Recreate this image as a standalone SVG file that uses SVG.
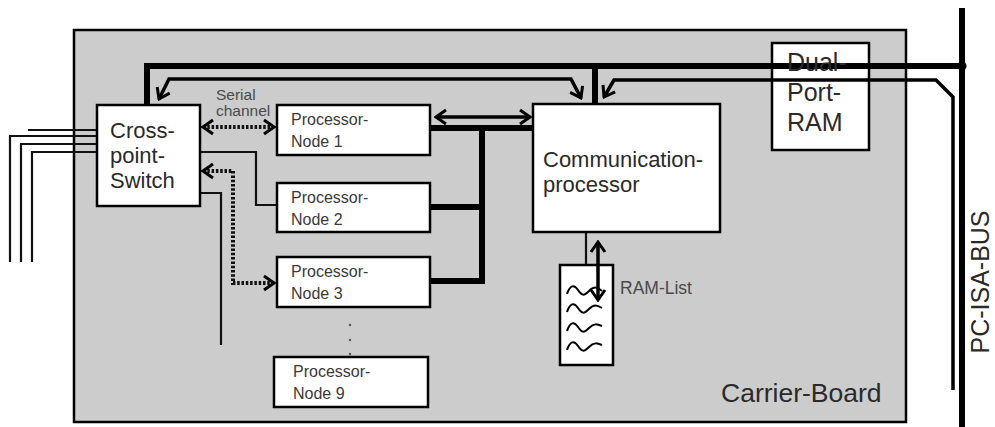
<svg xmlns="http://www.w3.org/2000/svg" width="995" height="427" viewBox="0 0 995 427">
<style>
.box{fill:#fff;stroke:#000;stroke-width:2.5}
.big{font-family:"Liberation Sans",Arial,sans-serif;font-size:22px;fill:#2a2a2a}
.mid{font-family:"Liberation Sans",Arial,sans-serif;font-size:16px;fill:#3a3a3a}
.sm{font-family:"Liberation Sans",Arial,sans-serif;font-size:15.5px;fill:#4a4a4a}
.thin{fill:none;stroke:#111;stroke-width:2.2}
.thick{fill:none;stroke:#000;stroke-width:6}
.med{fill:none;stroke:#000;stroke-width:3.5}
.dot{fill:none;stroke:#111;stroke-width:4;stroke-dasharray:2.5 1.8}
</style>
<defs>
<marker id="v" viewBox="-13 -9 15 18" refX="0" refY="0" markerWidth="15" markerHeight="18" markerUnits="userSpaceOnUse" orient="auto-start-reverse">
<path d="M-10,-7 L0,0 L-10,7" fill="none" stroke="#000" stroke-width="3" stroke-linejoin="miter"/>
</marker>
</defs>
<g id="carrier-board">
<rect x="74" y="30" width="832" height="392" fill="#cccccc" stroke="#000" stroke-width="2.5"/>
<text class="big" x="721" y="402" style="font-size:26.5px">Carrier-Board</text>
</g>
<g id="dual-port-ram">
<rect class="box" x="772" y="43" width="97" height="107"/>
</g>
<g id="connectors">
<!-- ISA bus -->
<line x1="962" y1="8" x2="962" y2="427" stroke="#000" stroke-width="6"/>
<circle cx="962" cy="66" r="4.5" fill="#000"/>
<!-- thick top bus -->
<path class="thick" d="M147,105 L147,66 L962,66"/>
<line class="thick" x1="595" y1="66" x2="595" y2="104"/>
<!-- thin top line with arrows into switch and comm -->
<path class="med" d="M159,99 L169,79 L571,79 L581,98" marker-start="url(#v)" marker-end="url(#v)"/>
<!-- line from ISA side into comm -->
<path class="med" d="M953,390 L953,97 L936,80 L614,80 L604,97" marker-end="url(#v)"/>
<!-- left external lines -->
<line class="thin" x1="28" y1="130" x2="97" y2="130"/>
<path class="thin" d="M10,262 L10,136 L97,136"/>
<path class="thin" d="M21,262 L21,144 L97,144"/>
<path class="thin" d="M32,262 L32,152 L97,152"/>
<!-- switch to node2 and down -->
<path class="thin" d="M200,152 L256,152 L256,205 L277,205"/>
<path class="thin" d="M200,193 L221,193 L221,345"/>
<!-- serial channels -->
<line class="dot" x1="203" y1="127" x2="274" y2="127" marker-start="url(#v)" marker-end="url(#v)"/>
<path class="dot" d="M203,171 L233,171 L233,283 L274,283" marker-start="url(#v)" marker-end="url(#v)"/>
<!-- node bus -->
<path class="thick" d="M430,128 L533,128"/>
<path class="thick" d="M482,128 L482,281 L430,281"/>
<line class="thick" x1="430" y1="207" x2="482" y2="207"/>
<line class="med" x1="436" y1="117" x2="530" y2="117" marker-start="url(#v)" marker-end="url(#v)"/>
<!-- comm to RAM list -->
<line class="thin" x1="586" y1="232" x2="586" y2="265"/>
</g>
<g id="dual-port-ram-label">
<text class="big" x="787" y="71" style="font-size:25px">Dual-</text>
<text class="big" x="787" y="101" style="font-size:25px">Port-</text>
<text class="big" x="787" y="131" style="font-size:25px">RAM</text>
</g>
<g id="crosspoint-switch">
<rect class="box" x="97" y="105" width="103" height="101"/>
<text class="big" x="110" y="138">Cross-</text>
<text class="big" x="110" y="163">point-</text>
<text class="big" x="110" y="188">Switch</text>
</g>
<g id="serial-label">
<text class="sm" x="216" y="100">Serial</text>
<text class="sm" x="216" y="116">channel</text>
</g>
<g id="node1">
<rect class="box" x="277" y="105" width="153" height="50"/>
<text class="mid" x="291" y="125">Processor-</text>
<text class="mid" x="291" y="147">Node 1</text>
</g>
<g id="node2">
<rect class="box" x="277" y="183" width="153" height="49"/>
<text class="mid" x="291" y="203">Processor-</text>
<text class="mid" x="291" y="225">Node 2</text>
</g>
<g id="node3">
<rect class="box" x="277" y="257" width="153" height="50"/>
<text class="mid" x="291" y="277">Processor-</text>
<text class="mid" x="291" y="299">Node 3</text>
</g>
<g id="dots">
<circle cx="350" cy="325" r="1.2" fill="#555"/>
<circle cx="350" cy="340" r="1.2" fill="#555"/>
<circle cx="350" cy="354" r="1.2" fill="#555"/>
</g>
<g id="node9">
<rect class="box" x="274" y="357" width="154" height="50"/>
<text class="mid" x="293" y="377">Processor-</text>
<text class="mid" x="293" y="399">Node 9</text>
</g>
<g id="comm-processor">
<rect class="box" x="533" y="104" width="187" height="128"/>
<text class="big" x="543" y="167">Communication-</text>
<text class="big" x="543" y="192">processor</text>
</g>
<g id="ram-list">
<rect class="box" x="560" y="265" width="53" height="100"/>
<g fill="none" stroke="#000" stroke-width="2">
<path d="M567,294 c3,-9 7,-10 11,-4 s6,6 11,1 s8,-4 13,0"/>
<path d="M567,312 c3,-9 7,-10 11,-4 s6,6 11,1 s8,-4 13,-1"/>
<path d="M567,331 c3,-9 7,-10 11,-4 s6,6 11,1 s8,-4 13,-2"/>
<path d="M567,350 c3,-9 7,-10 11,-4 s6,6 11,1 s8,-4 13,-2"/>
</g>
<line class="med" x1="598" y1="242" x2="598" y2="300" marker-start="url(#v)" marker-end="url(#v)"/>
<text class="sm" x="620" y="294" style="font-size:17.5px">RAM-List</text>
</g>
<g id="isa-label">
<text class="big" transform="translate(989,282) rotate(-90)" text-anchor="middle" style="font-size:25px">PC-ISA-BUS</text>
</g>
</svg>
